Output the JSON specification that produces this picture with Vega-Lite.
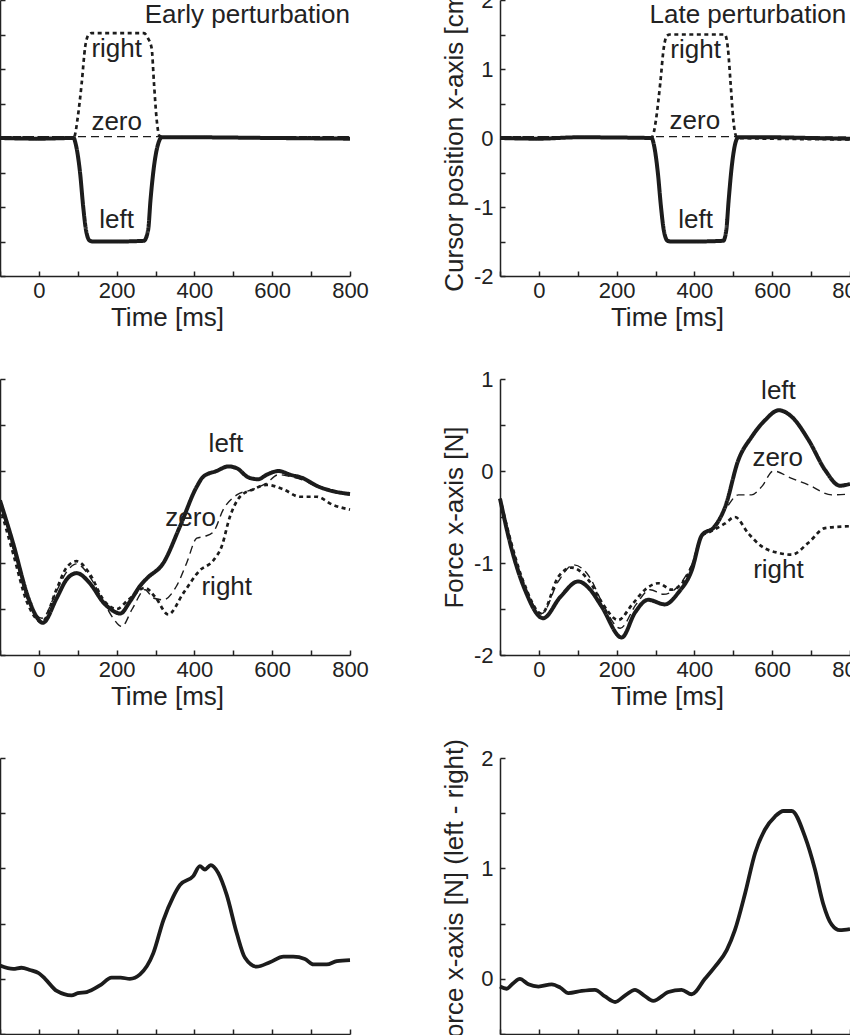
{
  "$schema": "https://vega.github.io/schema/vega-lite/v6.json",
  "autosize": {"type": "none"},
  "padding": {"left": 0, "top": 0, "right": 850, "bottom": 1035},
  "background": "white",
  "bounds": "flush",
  "columns": 2,
  "spacing": {"row": 103, "column": 150},
  "config": {
    "view": {"stroke": null},
    "font": "Liberation Sans",
    "axis": {
      "grid": false,
      "domainColor": "#222",
      "domainWidth": 1.5,
      "tickColor": "#222",
      "tickWidth": 1.5,
      "tickSize": -5,
      "labelFont": "Liberation Sans",
      "labelFontSize": 22,
      "labelColor": "#222",
      "labelFlush": false,
      "labelOverlap": false,
      "titleFont": "Liberation Sans",
      "titleFontSize": 26,
      "titleFontWeight": "normal",
      "titleColor": "#222"
    },
    "axisX": {"labelPadding": 9},
    "axisY": {"labelPadding": 12},
    "text": {"font": "Liberation Sans", "fontSize": 26, "color": "#222", "baseline": "alphabetic"}
  },
  "concat": [
    {
      "width": 350, "height": 276,
      "encoding": {
        "x": {"field": "t", "type": "quantitative", "scale": {"domain": [-100, 800], "nice": false},
          "axis": {"values": [-100, 0, 100, 200, 300, 400, 500, 600, 700, 800], "labelExpr": "datum.value % 200 == 0 ? '' + datum.value : ''", "title": "Time [ms]", "titleX": 167, "titleY": 49, "titleBaseline": "alphabetic"}},
        "y": {"field": "v", "type": "quantitative", "scale": {"domain": [-2, 2], "nice": false, "zero": false},
          "axis": {"values": [-2, -1.5, -1, -0.5, 0, 0.5, 1, 1.5, 2], "labels": false, "title": null}}
      },
      "layer": [
        {
          "data": {"values": [
            {"s": "zero", "t": -100, "v": 0.02}, {"s": "zero", "t": 200, "v": 0.02}, {"s": "zero", "t": 500, "v": 0.02}, {"s": "zero", "t": 800, "v": 0.02},
            {"s": "right", "t": -100, "v": 0.01}, {"s": "right", "t": 90, "v": 0.01}, {"s": "right", "t": 93, "v": 0.05}, {"s": "right", "t": 99, "v": 0.26}, {"s": "right", "t": 110, "v": 0.79}, {"s": "right", "t": 119, "v": 1.32}, {"s": "right", "t": 127, "v": 1.49}, {"s": "right", "t": 135, "v": 1.52}, {"s": "right", "t": 200, "v": 1.52}, {"s": "right", "t": 270, "v": 1.52}, {"s": "right", "t": 280, "v": 1.45}, {"s": "right", "t": 290, "v": 1.3}, {"s": "right", "t": 296, "v": 0.79}, {"s": "right", "t": 303, "v": 0.26}, {"s": "right", "t": 310, "v": 0.03}, {"s": "right", "t": 320, "v": 0.01}, {"s": "right", "t": 800, "v": 0.01},
            {"s": "left", "t": -100, "v": 0}, {"s": "left", "t": 0, "v": -0.01}, {"s": "left", "t": 90, "v": 0}, {"s": "left", "t": 93, "v": -0.05}, {"s": "left", "t": 106, "v": -0.51}, {"s": "left", "t": 114, "v": -1.0}, {"s": "left", "t": 121, "v": -1.33}, {"s": "left", "t": 131, "v": -1.49}, {"s": "left", "t": 140, "v": -1.5}, {"s": "left", "t": 200, "v": -1.5}, {"s": "left", "t": 270, "v": -1.49}, {"s": "left", "t": 281, "v": -1.33}, {"s": "left", "t": 287, "v": -0.9}, {"s": "left", "t": 296, "v": -0.41}, {"s": "left", "t": 307, "v": -0.08}, {"s": "left", "t": 316, "v": 0.01}, {"s": "left", "t": 400, "v": 0.01}, {"s": "left", "t": 600, "v": 0}, {"s": "left", "t": 800, "v": -0.01}
          ]},
          "mark": {"type": "line", "interpolate": "monotone", "color": "#1c1c1c"},
          "encoding": {
            "strokeDash": {"field": "s", "type": "nominal", "scale": {"domain": ["zero", "right", "left"], "range": [[8, 5], [4, 3.5], [1, 0]]}, "legend": null},
            "strokeWidth": {"field": "s", "type": "ordinal", "scale": {"domain": ["zero", "right", "left"], "range": [1.4, 4, 3.8]}, "legend": null}
          }
        },
        {
          "data": {"values": [
            {"t": 200, "v": 1.17, "label": "right"},
            {"t": 200, "v": 0.12, "label": "zero"},
            {"t": 200, "v": -1.31, "label": "left"}
          ]},
          "mark": {"type": "text", "align": "center"},
          "encoding": {"text": {"field": "label"}}
        },
        {
          "data": {"values": [{"t": 800, "v": 1.67, "label": "Early perturbation"}]},
          "mark": {"type": "text", "align": "right"},
          "encoding": {"text": {"field": "label"}}
        }
      ]
    },
    {
      "width": 350, "height": 276,
      "encoding": {
        "x": {"field": "t", "type": "quantitative", "scale": {"domain": [-100, 800], "nice": false},
          "axis": {"values": [-100, 0, 100, 200, 300, 400, 500, 600, 700, 800], "labelExpr": "datum.value % 200 == 0 ? '' + datum.value : ''", "title": "Time [ms]", "titleX": 167, "titleY": 49, "titleBaseline": "alphabetic"}},
        "y": {"field": "v", "type": "quantitative", "scale": {"domain": [-2, 2], "nice": false, "zero": false},
          "axis": {"values": [-2, -1.5, -1, -0.5, 0, 0.5, 1, 1.5, 2], "labelExpr": "datum.value % 1 == 0 ? '' + datum.value : ''", "title": "Cursor position x-axis [cm]", "titleX": -38, "titleY": 138, "titleAngle": -90, "titleAlign": "center", "titleBaseline": "alphabetic"}}
      },
      "layer": [
        {
          "data": {"values": [
            {"s": "zero", "t": -100, "v": 0.02}, {"s": "zero", "t": 300, "v": 0.02}, {"s": "zero", "t": 500, "v": 0.02}, {"s": "zero", "t": 800, "v": 0.01},
            {"s": "right", "t": -100, "v": 0.01}, {"s": "right", "t": 290, "v": 0.01}, {"s": "right", "t": 294, "v": 0.05}, {"s": "right", "t": 301, "v": 0.26}, {"s": "right", "t": 312, "v": 0.79}, {"s": "right", "t": 321, "v": 1.3}, {"s": "right", "t": 329, "v": 1.48}, {"s": "right", "t": 337, "v": 1.5}, {"s": "right", "t": 400, "v": 1.5}, {"s": "right", "t": 478, "v": 1.5}, {"s": "right", "t": 486, "v": 1.3}, {"s": "right", "t": 493, "v": 0.79}, {"s": "right", "t": 500, "v": 0.26}, {"s": "right", "t": 507, "v": 0.03}, {"s": "right", "t": 515, "v": 0}, {"s": "right", "t": 600, "v": -0.01}, {"s": "right", "t": 800, "v": -0.02},
            {"s": "left", "t": -100, "v": 0}, {"s": "left", "t": 0, "v": -0.01}, {"s": "left", "t": 100, "v": 0.01}, {"s": "left", "t": 290, "v": 0}, {"s": "left", "t": 295, "v": -0.08}, {"s": "left", "t": 306, "v": -0.51}, {"s": "left", "t": 314, "v": -1.0}, {"s": "left", "t": 321, "v": -1.33}, {"s": "left", "t": 331, "v": -1.49}, {"s": "left", "t": 340, "v": -1.5}, {"s": "left", "t": 400, "v": -1.5}, {"s": "left", "t": 474, "v": -1.49}, {"s": "left", "t": 482, "v": -1.33}, {"s": "left", "t": 488, "v": -0.9}, {"s": "left", "t": 496, "v": -0.41}, {"s": "left", "t": 505, "v": -0.08}, {"s": "left", "t": 513, "v": 0.01}, {"s": "left", "t": 600, "v": 0.01}, {"s": "left", "t": 700, "v": 0}, {"s": "left", "t": 800, "v": -0.01}
          ]},
          "mark": {"type": "line", "interpolate": "monotone", "color": "#1c1c1c"},
          "encoding": {
            "strokeDash": {"field": "s", "type": "nominal", "scale": {"domain": ["zero", "right", "left"], "range": [[8, 5], [4, 3.5], [1, 0]]}, "legend": null},
            "strokeWidth": {"field": "s", "type": "ordinal", "scale": {"domain": ["zero", "right", "left"], "range": [1.4, 4, 3.8]}, "legend": null}
          }
        },
        {
          "data": {"values": [
            {"t": 403, "v": 1.16, "label": "right"},
            {"t": 401, "v": 0.13, "label": "zero"},
            {"t": 403, "v": -1.31, "label": "left"}
          ]},
          "mark": {"type": "text", "align": "center"},
          "encoding": {"text": {"field": "label"}}
        },
        {
          "data": {"values": [{"t": 790, "v": 1.67, "label": "Late perturbation"}]},
          "mark": {"type": "text", "align": "right"},
          "encoding": {"text": {"field": "label"}}
        }
      ]
    },
    {
      "width": 350, "height": 276,
      "encoding": {
        "x": {"field": "t", "type": "quantitative", "scale": {"domain": [-100, 800], "nice": false},
          "axis": {"values": [-100, 0, 100, 200, 300, 400, 500, 600, 700, 800], "labelExpr": "datum.value % 200 == 0 ? '' + datum.value : ''", "title": "Time [ms]", "titleX": 167, "titleY": 49, "titleBaseline": "alphabetic"}},
        "y": {"field": "v", "type": "quantitative", "scale": {"domain": [-2, 1], "nice": false, "zero": false},
          "axis": {"values": [-2, -1.5, -1, -0.5, 0, 0.5, 1], "labels": false, "title": null}}
      },
      "layer": [
        {
          "data": {"values": [
            {"s": "zero", "t": -100, "v": -0.36}, {"s": "zero", "t": -66, "v": -0.85}, {"s": "zero", "t": -31, "v": -1.38}, {"s": "zero", "t": 8, "v": -1.6}, {"s": "zero", "t": 46, "v": -1.3}, {"s": "zero", "t": 71, "v": -1.1}, {"s": "zero", "t": 97, "v": -1.01}, {"s": "zero", "t": 131, "v": -1.15}, {"s": "zero", "t": 166, "v": -1.42}, {"s": "zero", "t": 191, "v": -1.6}, {"s": "zero", "t": 213, "v": -1.69}, {"s": "zero", "t": 240, "v": -1.5}, {"s": "zero", "t": 273, "v": -1.29}, {"s": "zero", "t": 294, "v": -1.38}, {"s": "zero", "t": 320, "v": -1.4}, {"s": "zero", "t": 354, "v": -1.25}, {"s": "zero", "t": 380, "v": -1.0}, {"s": "zero", "t": 406, "v": -0.73}, {"s": "zero", "t": 427, "v": -0.71}, {"s": "zero", "t": 449, "v": -0.66}, {"s": "zero", "t": 474, "v": -0.42}, {"s": "zero", "t": 509, "v": -0.26}, {"s": "zero", "t": 551, "v": -0.2}, {"s": "zero", "t": 586, "v": -0.13}, {"s": "zero", "t": 616, "v": -0.04}, {"s": "zero", "t": 646, "v": -0.06}, {"s": "zero", "t": 680, "v": -0.1}, {"s": "zero", "t": 714, "v": -0.17}, {"s": "zero", "t": 757, "v": -0.23}, {"s": "zero", "t": 800, "v": -0.26},
            {"s": "right", "t": -100, "v": -0.39}, {"s": "right", "t": -66, "v": -0.9}, {"s": "right", "t": -31, "v": -1.42}, {"s": "right", "t": 8, "v": -1.64}, {"s": "right", "t": 46, "v": -1.28}, {"s": "right", "t": 71, "v": -1.05}, {"s": "right", "t": 97, "v": -0.98}, {"s": "right", "t": 131, "v": -1.12}, {"s": "right", "t": 166, "v": -1.4}, {"s": "right", "t": 200, "v": -1.5}, {"s": "right", "t": 230, "v": -1.4}, {"s": "right", "t": 273, "v": -1.27}, {"s": "right", "t": 299, "v": -1.37}, {"s": "right", "t": 333, "v": -1.56}, {"s": "right", "t": 371, "v": -1.33}, {"s": "right", "t": 414, "v": -1.08}, {"s": "right", "t": 449, "v": -0.97}, {"s": "right", "t": 470, "v": -0.82}, {"s": "right", "t": 491, "v": -0.5}, {"s": "right", "t": 517, "v": -0.28}, {"s": "right", "t": 551, "v": -0.2}, {"s": "right", "t": 586, "v": -0.15}, {"s": "right", "t": 629, "v": -0.2}, {"s": "right", "t": 671, "v": -0.28}, {"s": "right", "t": 714, "v": -0.28}, {"s": "right", "t": 757, "v": -0.37}, {"s": "right", "t": 800, "v": -0.42},
            {"s": "left", "t": -100, "v": -0.32}, {"s": "left", "t": -66, "v": -0.79}, {"s": "left", "t": -31, "v": -1.33}, {"s": "left", "t": -14, "v": -1.52}, {"s": "left", "t": 10, "v": -1.65}, {"s": "left", "t": 46, "v": -1.38}, {"s": "left", "t": 71, "v": -1.18}, {"s": "left", "t": 97, "v": -1.11}, {"s": "left", "t": 131, "v": -1.22}, {"s": "left", "t": 166, "v": -1.43}, {"s": "left", "t": 191, "v": -1.52}, {"s": "left", "t": 209, "v": -1.55}, {"s": "left", "t": 234, "v": -1.42}, {"s": "left", "t": 260, "v": -1.25}, {"s": "left", "t": 277, "v": -1.17}, {"s": "left", "t": 320, "v": -1.0}, {"s": "left", "t": 363, "v": -0.6}, {"s": "left", "t": 406, "v": -0.17}, {"s": "left", "t": 423, "v": -0.06}, {"s": "left", "t": 457, "v": 0.0}, {"s": "left", "t": 487, "v": 0.05}, {"s": "left", "t": 509, "v": 0.03}, {"s": "left", "t": 539, "v": -0.07}, {"s": "left", "t": 564, "v": -0.09}, {"s": "left", "t": 586, "v": -0.04}, {"s": "left", "t": 616, "v": 0.0}, {"s": "left", "t": 646, "v": -0.04}, {"s": "left", "t": 680, "v": -0.08}, {"s": "left", "t": 714, "v": -0.16}, {"s": "left", "t": 757, "v": -0.22}, {"s": "left", "t": 800, "v": -0.25}
          ]},
          "mark": {"type": "line", "interpolate": "monotone", "color": "#1c1c1c"},
          "encoding": {
            "strokeDash": {"field": "s", "type": "nominal", "scale": {"domain": ["zero", "right", "left"], "range": [[8, 5], [4, 3.5], [1, 0]]}, "legend": null},
            "strokeWidth": {"field": "s", "type": "ordinal", "scale": {"domain": ["zero", "right", "left"], "range": [1.4, 4, 3.8]}, "legend": null}
          }
        },
        {
          "data": {"values": [
            {"t": 481, "v": 0.21, "label": "left"},
            {"t": 390, "v": -0.6, "label": "zero"},
            {"t": 483, "v": -1.35, "label": "right"}
          ]},
          "mark": {"type": "text", "align": "center"},
          "encoding": {"text": {"field": "label"}}
        }
      ]
    },
    {
      "width": 350, "height": 276,
      "encoding": {
        "x": {"field": "t", "type": "quantitative", "scale": {"domain": [-100, 800], "nice": false},
          "axis": {"values": [-100, 0, 100, 200, 300, 400, 500, 600, 700, 800], "labelExpr": "datum.value % 200 == 0 ? '' + datum.value : ''", "title": "Time [ms]", "titleX": 167, "titleY": 49, "titleBaseline": "alphabetic"}},
        "y": {"field": "v", "type": "quantitative", "scale": {"domain": [-2, 1], "nice": false, "zero": false},
          "axis": {"values": [-2, -1.5, -1, -0.5, 0, 0.5, 1], "labelExpr": "datum.value % 1 == 0 ? '' + datum.value : ''", "title": "Force x-axis [N]", "titleX": -38, "titleY": 138, "titleAngle": -90, "titleAlign": "center", "titleBaseline": "alphabetic"}}
      },
      "layer": [
        {
          "data": {"values": [
            {"s": "zero", "t": -100, "v": -0.33}, {"s": "zero", "t": -40, "v": -1.2}, {"s": "zero", "t": 7, "v": -1.55}, {"s": "zero", "t": 50, "v": -1.2}, {"s": "zero", "t": 89, "v": -1.02}, {"s": "zero", "t": 130, "v": -1.15}, {"s": "zero", "t": 165, "v": -1.45}, {"s": "zero", "t": 209, "v": -1.71}, {"s": "zero", "t": 250, "v": -1.45}, {"s": "zero", "t": 286, "v": -1.29}, {"s": "zero", "t": 320, "v": -1.34}, {"s": "zero", "t": 393, "v": -1.02}, {"s": "zero", "t": 420, "v": -0.68}, {"s": "zero", "t": 444, "v": -0.62}, {"s": "zero", "t": 479, "v": -0.42}, {"s": "zero", "t": 513, "v": -0.26}, {"s": "zero", "t": 547, "v": -0.26}, {"s": "zero", "t": 573, "v": -0.17}, {"s": "zero", "t": 603, "v": 0.0}, {"s": "zero", "t": 650, "v": -0.08}, {"s": "zero", "t": 693, "v": -0.15}, {"s": "zero", "t": 753, "v": -0.26}, {"s": "zero", "t": 800, "v": -0.25},
            {"s": "right", "t": -100, "v": -0.3}, {"s": "right", "t": -40, "v": -1.2}, {"s": "right", "t": 7, "v": -1.55}, {"s": "right", "t": 50, "v": -1.15}, {"s": "right", "t": 84, "v": -1.05}, {"s": "right", "t": 130, "v": -1.2}, {"s": "right", "t": 165, "v": -1.45}, {"s": "right", "t": 204, "v": -1.62}, {"s": "right", "t": 240, "v": -1.45}, {"s": "right", "t": 273, "v": -1.29}, {"s": "right", "t": 307, "v": -1.22}, {"s": "right", "t": 341, "v": -1.29}, {"s": "right", "t": 393, "v": -1.04}, {"s": "right", "t": 420, "v": -0.7}, {"s": "right", "t": 440, "v": -0.66}, {"s": "right", "t": 479, "v": -0.57}, {"s": "right", "t": 504, "v": -0.5}, {"s": "right", "t": 539, "v": -0.68}, {"s": "right", "t": 573, "v": -0.82}, {"s": "right", "t": 616, "v": -0.89}, {"s": "right", "t": 650, "v": -0.91}, {"s": "right", "t": 693, "v": -0.78}, {"s": "right", "t": 736, "v": -0.62}, {"s": "right", "t": 800, "v": -0.6},
            {"s": "left", "t": -100, "v": -0.3}, {"s": "left", "t": -70, "v": -0.85}, {"s": "left", "t": -36, "v": -1.29}, {"s": "left", "t": 11, "v": -1.6}, {"s": "left", "t": 55, "v": -1.37}, {"s": "left", "t": 101, "v": -1.2}, {"s": "left", "t": 130, "v": -1.28}, {"s": "left", "t": 161, "v": -1.47}, {"s": "left", "t": 213, "v": -1.81}, {"s": "left", "t": 247, "v": -1.54}, {"s": "left", "t": 281, "v": -1.4}, {"s": "left", "t": 324, "v": -1.45}, {"s": "left", "t": 359, "v": -1.32}, {"s": "left", "t": 393, "v": -1.08}, {"s": "left", "t": 419, "v": -0.7}, {"s": "left", "t": 453, "v": -0.6}, {"s": "left", "t": 479, "v": -0.39}, {"s": "left", "t": 513, "v": 0.12}, {"s": "left", "t": 547, "v": 0.37}, {"s": "left", "t": 581, "v": 0.55}, {"s": "left", "t": 617, "v": 0.66}, {"s": "left", "t": 650, "v": 0.59}, {"s": "left", "t": 693, "v": 0.34}, {"s": "left", "t": 736, "v": 0.01}, {"s": "left", "t": 774, "v": -0.16}, {"s": "left", "t": 800, "v": -0.14}
          ]},
          "mark": {"type": "line", "interpolate": "monotone", "color": "#1c1c1c"},
          "encoding": {
            "strokeDash": {"field": "s", "type": "nominal", "scale": {"domain": ["zero", "right", "left"], "range": [[8, 5], [4, 3.5], [1, 0]]}, "legend": null},
            "strokeWidth": {"field": "s", "type": "ordinal", "scale": {"domain": ["zero", "right", "left"], "range": [1.4, 4, 3.8]}, "legend": null}
          }
        },
        {
          "data": {"values": [
            {"t": 616, "v": 0.78, "label": "left"},
            {"t": 614, "v": 0.05, "label": "zero"},
            {"t": 616, "v": -1.16, "label": "right"}
          ]},
          "mark": {"type": "text", "align": "center"},
          "encoding": {"text": {"field": "label"}}
        }
      ]
    },
    {
      "width": 350, "height": 276,
      "layer": [
        {
          "mark": {"type": "rule", "color": "#1c1c1c", "strokeWidth": 2, "strokeDash": [1.5, 1.5]},
          "encoding": {"y": {"datum": 0, "type": "quantitative"}}
        },
        {
          "data": {"values": [
            {"t": -100, "v": 0.12}, {"t": -66, "v": 0.09}, {"t": -45, "v": 0.1}, {"t": -23, "v": 0.08}, {"t": 0, "v": 0.05}, {"t": 16, "v": 0.0}, {"t": 46, "v": -0.11}, {"t": 84, "v": -0.15}, {"t": 100, "v": -0.13}, {"t": 123, "v": -0.12}, {"t": 157, "v": -0.06}, {"t": 187, "v": 0.01}, {"t": 210, "v": 0.01}, {"t": 234, "v": 0.0}, {"t": 260, "v": 0.04}, {"t": 294, "v": 0.23}, {"t": 320, "v": 0.53}, {"t": 345, "v": 0.74}, {"t": 363, "v": 0.85}, {"t": 397, "v": 0.93}, {"t": 414, "v": 1.02}, {"t": 427, "v": 0.99}, {"t": 442, "v": 1.03}, {"t": 461, "v": 0.96}, {"t": 483, "v": 0.76}, {"t": 509, "v": 0.41}, {"t": 530, "v": 0.19}, {"t": 560, "v": 0.11}, {"t": 594, "v": 0.15}, {"t": 629, "v": 0.2}, {"t": 654, "v": 0.2}, {"t": 684, "v": 0.18}, {"t": 706, "v": 0.13}, {"t": 740, "v": 0.13}, {"t": 766, "v": 0.16}, {"t": 800, "v": 0.17}
          ]},
          "mark": {"type": "line", "interpolate": "monotone", "color": "#1c1c1c", "strokeWidth": 3.8},
          "encoding": {
            "x": {"field": "t", "type": "quantitative", "scale": {"domain": [-100, 800], "nice": false},
              "axis": {"values": [-100, 0, 100, 200, 300, 400, 500, 600, 700, 800], "labelExpr": "datum.value % 200 == 0 ? '' + datum.value : ''", "title": "Time [ms]", "titleX": 167, "titleY": 49, "titleBaseline": "alphabetic"}},
            "y": {"field": "v", "type": "quantitative", "scale": {"domain": [-0.5, 2], "nice": false, "zero": false},
              "axis": {"values": [-0.5, 0, 0.5, 1, 1.5, 2], "labels": false, "title": null}}
          }
        }
      ]
    },
    {
      "width": 350, "height": 276,
      "layer": [
        {
          "mark": {"type": "rule", "color": "#1c1c1c", "strokeWidth": 2, "strokeDash": [1.5, 1.5]},
          "encoding": {"y": {"datum": 0, "type": "quantitative"}}
        },
        {
          "data": {"values": [
            {"t": -100, "v": -0.07}, {"t": -83, "v": -0.09}, {"t": -66, "v": -0.04}, {"t": -49, "v": 0.0}, {"t": -27, "v": -0.05}, {"t": -1, "v": -0.07}, {"t": 33, "v": -0.05}, {"t": 55, "v": -0.08}, {"t": 76, "v": -0.13}, {"t": 110, "v": -0.11}, {"t": 144, "v": -0.1}, {"t": 170, "v": -0.16}, {"t": 196, "v": -0.21}, {"t": 222, "v": -0.15}, {"t": 247, "v": -0.1}, {"t": 270, "v": -0.15}, {"t": 294, "v": -0.2}, {"t": 333, "v": -0.12}, {"t": 367, "v": -0.1}, {"t": 393, "v": -0.14}, {"t": 427, "v": 0.0}, {"t": 453, "v": 0.11}, {"t": 483, "v": 0.26}, {"t": 504, "v": 0.44}, {"t": 530, "v": 0.77}, {"t": 556, "v": 1.14}, {"t": 581, "v": 1.35}, {"t": 607, "v": 1.47}, {"t": 629, "v": 1.52}, {"t": 650, "v": 1.52}, {"t": 684, "v": 1.29}, {"t": 710, "v": 0.99}, {"t": 731, "v": 0.68}, {"t": 753, "v": 0.49}, {"t": 774, "v": 0.44}, {"t": 800, "v": 0.45}
          ]},
          "mark": {"type": "line", "interpolate": "monotone", "color": "#1c1c1c", "strokeWidth": 3.8},
          "encoding": {
            "x": {"field": "t", "type": "quantitative", "scale": {"domain": [-100, 800], "nice": false},
              "axis": {"values": [-100, 0, 100, 200, 300, 400, 500, 600, 700, 800], "labelExpr": "datum.value % 200 == 0 ? '' + datum.value : ''", "title": "Time [ms]", "titleX": 167, "titleY": 49, "titleBaseline": "alphabetic"}},
            "y": {"field": "v", "type": "quantitative", "scale": {"domain": [-0.5, 2], "nice": false, "zero": false},
              "axis": {"values": [-0.5, 0, 0.5, 1, 1.5, 2], "labelExpr": "datum.value % 1 == 0 ? '' + datum.value : ''", "title": "Force x-axis [N] (left - right)", "titleX": -38, "titleY": 138, "titleAngle": -90, "titleAlign": "center", "titleBaseline": "alphabetic"}}
          }
        }
      ]
    }
  ]
}
